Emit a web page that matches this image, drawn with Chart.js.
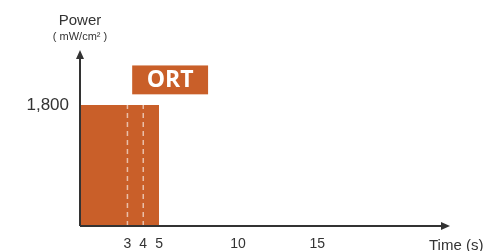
<!DOCTYPE html>
<html>
<head>
<meta charset="utf-8">
<script src="https://cdn.jsdelivr.net/npm/chart.js@4"></script>
<style>
  html, body { margin: 0; padding: 0; background: #fff; }
  #wrap { width: 496px; height: 251px; position: relative; }
</style>
</head>
<body>
<div id="wrap"><canvas id="c" width="496" height="251"></canvas></div>
<script>
// pulse data
const pulseStart = 0;
const pulseEnd = 5;
const pulsePower = 1800;
const markerTimes = [3, 4];
const xTicks = [3, 4, 5, 10, 15];
const yTicks = [1800];
const labelText = 'ORT';

const orange = '#c95f29';
const axisColor = '#333';
const font = '"Liberation Sans", Arial, sans-serif';

const datasets = [{
  data: [{ x: pulseStart, y: pulsePower }, { x: pulseEnd, y: pulsePower }],
  borderWidth: 0, pointRadius: 0, fill: 'origin', backgroundColor: orange, borderColor: orange,
  order: 2
}];
markerTimes.forEach(t => datasets.push({
  data: [{ x: t, y: 0 }, { x: t, y: pulsePower }],
  borderColor: 'rgba(255,255,255,0.6)', borderWidth: 1.5, borderDash: [5, 4], pointRadius: 0, fill: false,
  order: 1
}));

const decor = {
  id: 'decor',
  afterDraw(chart) {
    const { ctx, scales: { x, y }, chartArea: a } = chart;
    ctx.save();
    // axes with arrows
    ctx.strokeStyle = axisColor; ctx.fillStyle = axisColor; ctx.lineWidth = 2;
    ctx.beginPath();
    ctx.moveTo(a.left, a.bottom); ctx.lineTo(a.left, a.top + 6);
    ctx.moveTo(a.left, a.bottom); ctx.lineTo(a.right - 6, a.bottom);
    ctx.stroke();
    ctx.beginPath();
    ctx.moveTo(a.left, a.top); ctx.lineTo(a.left - 4, a.top + 9); ctx.lineTo(a.left + 4, a.top + 9); ctx.closePath();
    ctx.moveTo(a.right, a.bottom); ctx.lineTo(a.right - 9, a.bottom - 4); ctx.lineTo(a.right - 9, a.bottom + 4); ctx.closePath();
    ctx.fill();

    // label box
    const bx0 = x.getPixelForValue(3.3), bx1 = x.getPixelForValue(8.1);
    const by0 = y.getPixelForValue(2390), by1 = y.getPixelForValue(1960);
    ctx.fillStyle = orange;
    ctx.fillRect(bx0, by0, bx1 - bx0, by1 - by0);
    ctx.fillStyle = '#fff';
    ctx.font = 'bold 23px "Open Sans", ' + font;
    ctx.textAlign = 'center'; ctx.textBaseline = 'middle';
    ctx.fillText(labelText, (bx0 + bx1) / 2, (by0 + by1) / 2 + 1);

    // axis titles
    ctx.fillStyle = axisColor;
    ctx.font = '15px ' + font;
    ctx.textBaseline = 'alphabetic';
    ctx.fillText('Power', a.left, 25);
    ctx.font = '11px ' + font;
    ctx.fillText('( mW/cm² )', a.left, 40);
    ctx.font = '15px ' + font;
    ctx.textAlign = 'left';
    ctx.fillText('Time (s)', 429, 250);
    ctx.restore();
  }
};

new Chart(document.getElementById('c'), {
  type: 'line',
  data: { datasets },
  options: {
    responsive: false, animation: false,
    layout: { padding: { top: 50, right: 46, left: 0, bottom: 0 } },
    plugins: { legend: { display: false }, tooltip: { enabled: false } },
    scales: {
      x: {
        type: 'linear', min: 0, max: 23.4,
        grid: { display: false }, border: { display: false },
        afterBuildTicks: s => { s.ticks = xTicks.map(v => ({ value: v })); },
        afterFit: s => { s.height = 25; },
        ticks: { color: axisColor, padding: 2, font: { family: font, size: 14 }, maxRotation: 0, autoSkip: false }
      },
      y: {
        min: 0, max: 2620,
        grid: { display: false }, border: { display: false },
        afterBuildTicks: s => { s.ticks = yTicks.map(v => ({ value: v })); },
        afterFit: s => { s.width = 80; },
        ticks: { color: axisColor, padding: 3, font: { family: font, size: 17 },
          callback: v => v.toLocaleString('en-US') }
      }
    }
  },
  plugins: [decor]
});
</script>
</body>
</html>
